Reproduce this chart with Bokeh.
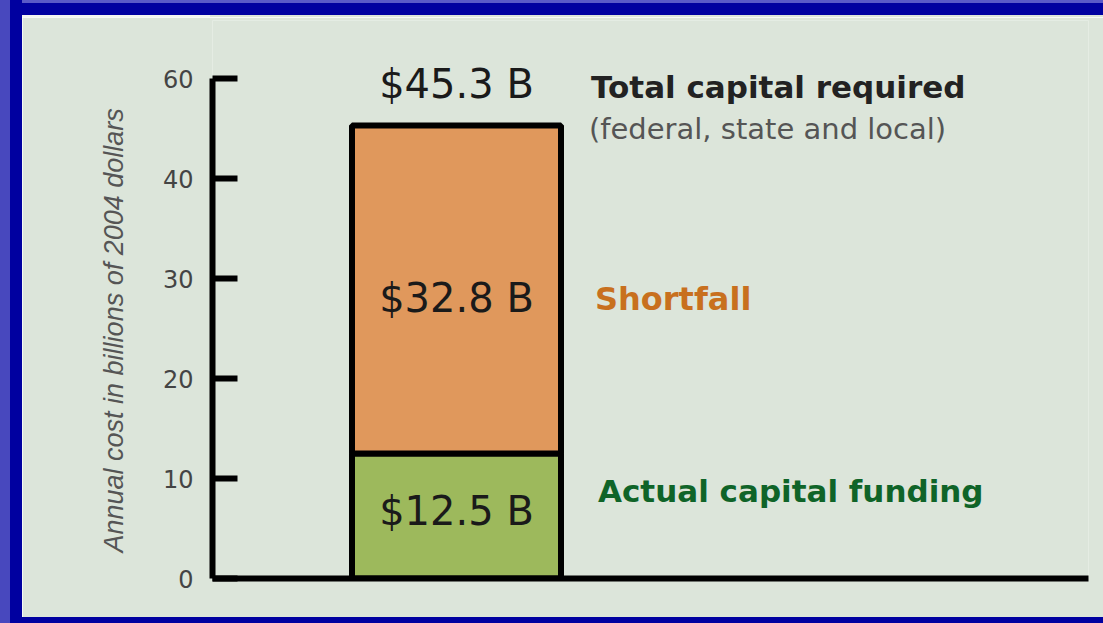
from bokeh.plotting import figure
from bokeh.models import ColumnDataSource, Range1d, FixedTicker, Title, Div
from bokeh.layouts import column, row
from bokeh.core.properties import value
from bokeh.embed import file_html
from bokeh.resources import INLINE

# ---------------- data ----------------
segments = ["Actual capital funding", "Shortfall"]
values = [12.5, 32.8]
value_labels = ["$12.5 B", "$32.8 B"]
segment_colors = ["#9db95c", "#e0985c"]
caption_colors = ["#0f6428", "#c8701e"]
total_value = 45.3
total_label = "$45.3 B"
total_caption = "Total capital required"
total_note = "(federal, state and local)"
y_ticks = [0, 10, 20, 30, 40, 50]
y_tick_labels = ["0", "10", "20", "30", "40", "60"]
y_title = "Annual cost in billions of 2004 dollars"

# ---------------- layout ----------------
PANEL = "#dce5da"
DARK = "#0000a0"
LIGHT = "#4848be"

W, H = 1081, 600          # chart panel (inside the blue slide border)
LEFT, RIGHT, TOP, BOTTOM = 190, 1066, 3, 561
PX_X = 209.0
PX_Y = 10.0
bar_x = 1.0
bar_w = 1.0
x0 = bar_x - 244 / PX_X
x1 = x0 + (RIGHT - LEFT) / PX_X
y1 = (BOTTOM - TOP) / PX_Y

bottoms, tops = [], []
acc = 0.0
for v in values:
    bottoms.append(acc)
    acc += v
    tops.append(acc)
mids = [(b + t) / 2 for b, t in zip(bottoms, tops)]

p = figure(width=W, height=H, x_range=Range1d(x0, x1), y_range=Range1d(0, y1),
           output_backend="svg", toolbar_location=None,
           min_border_left=LEFT, min_border_right=W - RIGHT,
           min_border_top=TOP, min_border_bottom=H - BOTTOM, margin=0)
p.background_fill_color = PANEL
p.border_fill_color = PANEL
p.outline_line_color = None
p.xgrid.visible = False
p.ygrid.visible = False

# axes
ya = p.yaxis[0]
ya.ticker = FixedTicker(ticks=y_ticks)
ya.major_label_overrides = {t: l for t, l in zip(y_ticks, y_tick_labels)}
ya.bounds = (y_ticks[0], y_ticks[-1])
ya.axis_line_width = 6
ya.axis_line_color = "black"
ya.major_tick_in = 25
ya.major_tick_out = 0
ya.major_tick_line_width = 6
ya.major_tick_line_color = "black"
ya.minor_tick_line_color = None
ya.major_label_standoff = 19
ya.major_label_text_font = "DejaVu Sans"
ya.major_label_text_font_size = "24px"
ya.major_label_text_color = "#444444"

xa = p.xaxis[0]
xa.axis_line_width = 6
xa.axis_line_color = "black"
xa.major_tick_line_color = None
xa.minor_tick_line_color = None
xa.major_label_text_font_size = "0px"
xa.major_label_text_color = None

# y title on the left
p.add_layout(Title(text=y_title, align="left", offset=26, standoff=62,
                   text_font="Liberation Sans", text_font_style="italic",
                   text_font_size="27px", text_color="#555555"), "left")

# bars
src = ColumnDataSource(dict(x=[bar_x] * len(values), bottom=bottoms, top=tops,
                            color=segment_colors))
p.vbar(x="x", width=bar_w, bottom="bottom", top="top", source=src,
       fill_color="color", line_color="black", line_width=6)

# value labels inside bar
lab_offsets = [-5, 8]
src_in = ColumnDataSource(dict(x=[bar_x] * len(values), y=mids, t=value_labels, off=lab_offsets))
p.text(x="x", y="y", text="t", source=src_in, y_offset="off",
       text_font=value("DejaVu Sans"), text_font_size="40px", text_color="#1a1a1a",
       text_align="center", text_baseline="middle")

# total label above bar
p.text(x=[bar_x], y=[total_value], text=[total_label], y_offset=-42,
       text_font=value("DejaVu Sans"), text_font_size="40px", text_color="#1a1a1a",
       text_align="center", text_baseline="middle")

edge = bar_x + bar_w / 2
p.text(x=[edge], y=[total_value], text=[total_caption], x_offset=30, y_offset=-39,
       text_font=value("DejaVu Sans"), text_font_style="bold", text_font_size="31px",
       text_color="#222222", text_align="left", text_baseline="middle")
p.text(x=[edge], y=[total_value], text=[total_note], x_offset=28, y_offset=3,
       text_font=value("DejaVu Sans"), text_font_size="29px",
       text_color="#555555", text_align="left", text_baseline="middle")

# segment captions
p.text(x=[edge], y=[mids[1]], text=[segments[1]], x_offset=34, y_offset=9,
       text_font=value("DejaVu Sans"), text_font_style="bold", text_font_size="32px",
       text_color=caption_colors[1], text_align="left", text_baseline="middle")
p.text(x=[edge], y=[mids[0]], text=[segments[0]], x_offset=37, y_offset=-25,
       text_font=value("DejaVu Sans"), text_font_style="bold", text_font_size="31px",
       text_color=caption_colors[0], text_align="left", text_baseline="middle")

# blue slide border around the chart panel
top_bg = (f"linear-gradient(#f3f5f1,#f3f5f1) 22px 15px/188px 2px no-repeat, "
          f"linear-gradient({LIGHT},{LIGHT}) 0 0/10px 17px no-repeat, "
          f"linear-gradient({DARK},{DARK}) 10px 0/12px 17px no-repeat, "
          f"linear-gradient(to bottom, #5a5ac8 0px, #5a5ac8 3px, {DARK} 3px, {DARK} 15px, "
          f"{PANEL} 15px, {PANEL} 17px)")
top_div = Div(text="", width=22 + W, height=17, margin=0, styles={"background": top_bg})
left_div = Div(text="", width=22, height=H, margin=0,
               styles={"background": f"linear-gradient(to right, {LIGHT} 0px, {LIGHT} 10px, {DARK} 10px, {DARK} 22px)"})
bottom_div = Div(text="", width=22 + W, height=6, margin=0,
                 styles={"background": f"linear-gradient(to right, {LIGHT} 0px, {LIGHT} 10px, {DARK} 10px)"})

page = column(top_div, row(left_div, p, spacing=0, margin=0), bottom_div, spacing=0, margin=0)

open("out.html", "w").write(file_html(page, INLINE))
